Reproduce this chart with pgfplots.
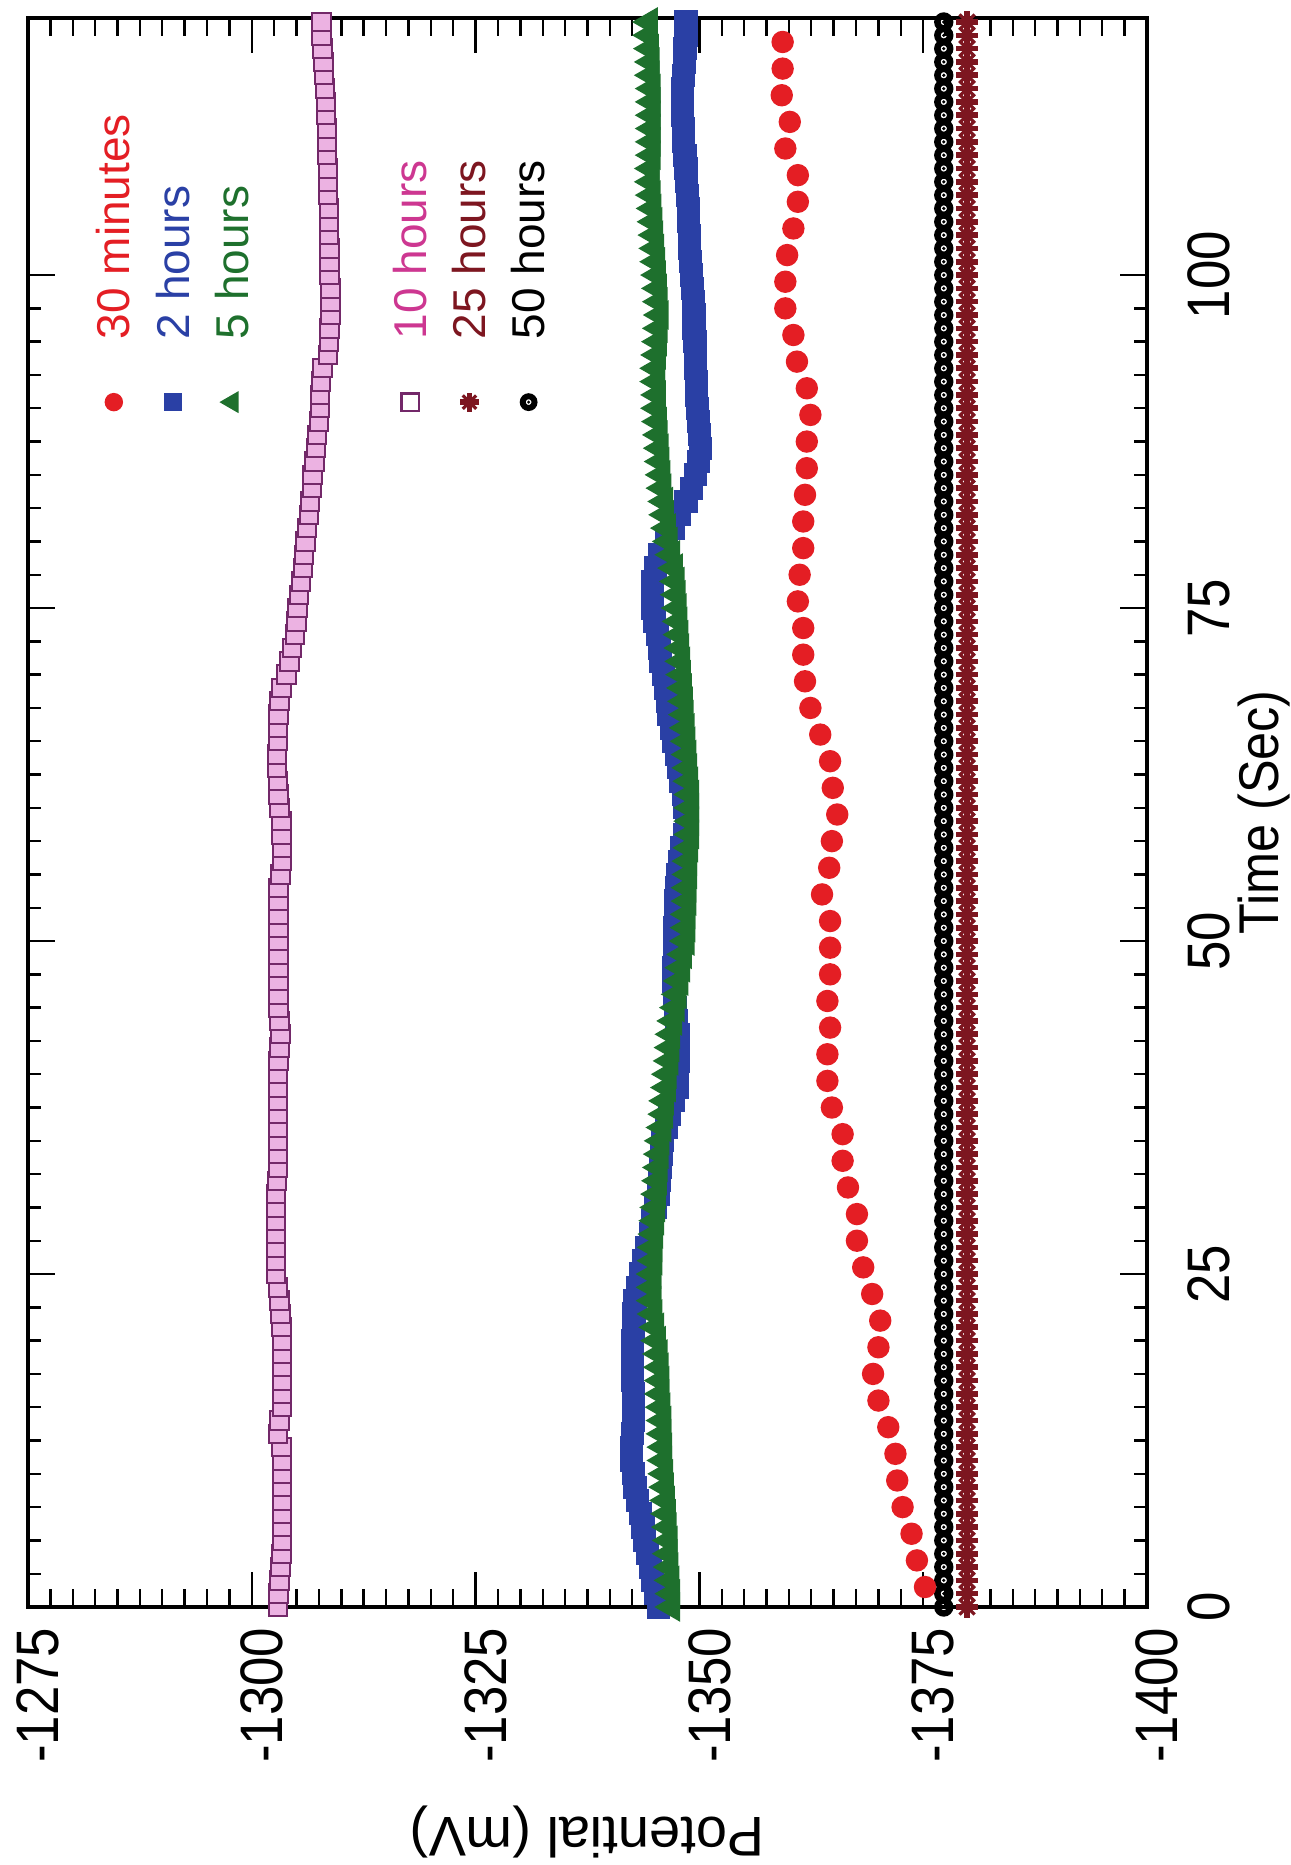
\documentclass[border=0pt]{standalone}
\usepackage{fontspec}
\setmainfont{Liberation Sans}
\usepackage{pgfplots}
\usepackage{pgfplotstable}
\pgfplotsset{compat=1.18}

\definecolor{cRed}{RGB}{228,30,36}
\definecolor{cBlue}{RGB}{42,64,165}
\definecolor{cGreen}{RGB}{30,112,45}
\definecolor{cPinkD}{RGB}{115,40,105}
\definecolor{cPinkF}{RGB}{236,178,226}
\definecolor{cPinkT}{RGB}{205,55,145}
\definecolor{cBrown}{RGB}{125,22,32}

\pgfdeclareplotmark{odot}{%
  \pgfsetlinewidth{0.65\pgfplotmarksize}%
  \pgfpathcircle{\pgfpointorigin}{0.64\pgfplotmarksize}\pgfusepathqstroke
  \pgfpathcircle{\pgfpointorigin}{0.18\pgfplotmarksize}\pgfusepathqfill}
\pgfdeclareplotmark{maltese}{%
  \pgfsetlinewidth{1.4pt}%
  \pgfpathmoveto{\pgfqpoint{-\pgfplotmarksize}{0pt}}\pgfpathlineto{\pgfqpoint{\pgfplotmarksize}{0pt}}%
  \pgfpathmoveto{\pgfqpoint{0pt}{-\pgfplotmarksize}}\pgfpathlineto{\pgfqpoint{0pt}{\pgfplotmarksize}}%
  \pgfusepathqstroke
  \pgfsetlinewidth{0.8pt}%
  \pgfpathmoveto{\pgfqpoint{-0.7\pgfplotmarksize}{-0.7\pgfplotmarksize}}\pgfpathlineto{\pgfqpoint{0.7\pgfplotmarksize}{0.7\pgfplotmarksize}}%
  \pgfpathmoveto{\pgfqpoint{-0.7\pgfplotmarksize}{0.7\pgfplotmarksize}}\pgfpathlineto{\pgfqpoint{0.7\pgfplotmarksize}{-0.7\pgfplotmarksize}}%
  \pgfusepathqstroke}

\pgfplotsset{myimg/.style={legend image code/.code={%
  \draw[##1] plot coordinates {(0pt,0pt)};%
  \path[draw=none, fill=none] (-3pt,-3pt) rectangle (15.75pt,3pt);}}}

% t  10h  2h  5h  50h  25h
\pgfplotstableread{
t pk bl gr bk br
0 -1302.9 -1345.4 -1346.9 -1377.3 -1379.9
1 -1303.0 -1345.1 -1346.9 -1377.3 -1379.9
2 -1303.1 -1344.8 -1346.8 -1377.3 -1379.9
3 -1303.2 -1344.5 -1346.7 -1377.3 -1379.9
4 -1303.3 -1344.2 -1346.6 -1377.3 -1379.9
5 -1303.4 -1343.9 -1346.6 -1377.3 -1379.9
6 -1303.4 -1343.7 -1346.5 -1377.3 -1379.9
7 -1303.4 -1343.4 -1346.4 -1377.3 -1379.9
8 -1303.4 -1343.1 -1346.3 -1377.3 -1379.9
9 -1303.4 -1342.8 -1346.2 -1377.3 -1379.9
10 -1303.4 -1342.6 -1346.1 -1377.3 -1379.9
11 -1303.4 -1342.4 -1346.0 -1377.3 -1379.9
12 -1303.3 -1342.4 -1346.0 -1377.3 -1379.9
13 -1302.9 -1342.5 -1345.9 -1377.3 -1379.9
14 -1303.1 -1342.6 -1345.9 -1377.3 -1379.9
15 -1303.4 -1342.6 -1345.8 -1377.3 -1379.9
16 -1303.4 -1342.6 -1345.7 -1377.3 -1379.9
17 -1303.4 -1342.5 -1345.7 -1377.3 -1379.9
18 -1303.4 -1342.5 -1345.6 -1377.3 -1379.9
19 -1303.4 -1342.5 -1345.5 -1377.3 -1379.9
20 -1303.4 -1342.5 -1345.3 -1377.3 -1379.9
21 -1303.3 -1342.6 -1345.1 -1377.3 -1379.9
22 -1303.2 -1342.7 -1344.9 -1377.3 -1379.9
23 -1303.1 -1342.8 -1344.8 -1377.3 -1379.9
24 -1302.9 -1343.1 -1344.8 -1377.3 -1379.9
25 -1302.7 -1343.4 -1344.8 -1377.3 -1379.9
26 -1302.7 -1343.8 -1344.9 -1377.3 -1379.9
27 -1302.7 -1344.1 -1344.9 -1377.3 -1379.9
28 -1302.7 -1344.5 -1345.0 -1377.3 -1379.9
29 -1302.7 -1344.8 -1345.1 -1377.3 -1379.9
30 -1302.7 -1345.1 -1345.2 -1377.3 -1379.9
31 -1302.7 -1345.4 -1345.3 -1377.3 -1379.9
32 -1302.8 -1345.5 -1345.4 -1377.3 -1379.9
33 -1302.9 -1345.7 -1345.5 -1377.3 -1379.9
34 -1302.9 -1345.8 -1345.6 -1377.3 -1379.9
35 -1302.9 -1345.9 -1345.7 -1377.3 -1379.9
36 -1302.9 -1346.3 -1345.9 -1377.3 -1379.9
37 -1302.9 -1346.7 -1346.1 -1377.3 -1379.9
38 -1302.9 -1347.1 -1346.2 -1377.3 -1379.9
39 -1302.9 -1347.5 -1346.4 -1377.3 -1379.9
40 -1302.9 -1347.5 -1346.5 -1377.3 -1379.9
41 -1303.0 -1347.6 -1346.7 -1377.3 -1379.9
42 -1303.1 -1347.6 -1346.8 -1377.3 -1379.9
43 -1303.2 -1347.6 -1346.9 -1377.3 -1379.9
44 -1303.1 -1347.4 -1347.1 -1377.3 -1379.9
45 -1303.0 -1347.3 -1347.4 -1377.3 -1379.9
46 -1303.0 -1347.2 -1347.6 -1377.3 -1379.9
47 -1303.0 -1347.1 -1347.8 -1377.3 -1379.9
48 -1303.0 -1347.1 -1348.0 -1377.3 -1379.9
49 -1303.0 -1347.2 -1348.2 -1377.3 -1379.9
50 -1303.0 -1347.2 -1348.5 -1377.3 -1379.9
51 -1303.0 -1347.2 -1348.6 -1377.3 -1379.9
52 -1303.0 -1347.3 -1348.6 -1377.3 -1379.9
53 -1303.0 -1347.3 -1348.7 -1377.3 -1379.9
54 -1303.0 -1347.5 -1348.7 -1377.3 -1379.9
55 -1303.2 -1347.6 -1348.8 -1377.3 -1379.9
56 -1303.4 -1347.8 -1348.8 -1377.3 -1379.9
57 -1303.4 -1348.0 -1348.9 -1377.3 -1379.9
58 -1303.3 -1348.3 -1349.0 -1377.3 -1379.9
59 -1303.3 -1348.6 -1349.0 -1377.3 -1379.9
60 -1303.1 -1348.4 -1349.0 -1377.3 -1379.9
61 -1303.0 -1348.2 -1349.0 -1377.3 -1379.9
62 -1302.9 -1347.9 -1348.9 -1377.3 -1379.9
63 -1302.8 -1347.7 -1348.8 -1377.3 -1379.9
64 -1302.8 -1347.4 -1348.7 -1377.3 -1379.9
65 -1302.9 -1347.1 -1348.6 -1377.3 -1379.9
66 -1302.9 -1346.9 -1348.5 -1377.3 -1379.9
67 -1303.0 -1346.6 -1348.4 -1377.3 -1379.9
68 -1303.1 -1346.4 -1348.3 -1377.3 -1379.9
69 -1303.3 -1346.2 -1348.2 -1377.3 -1379.9
70 -1303.9 -1346.0 -1348.1 -1377.3 -1379.9
71 -1304.2 -1345.7 -1348.0 -1377.3 -1379.9
72 -1304.5 -1345.5 -1347.9 -1377.3 -1379.9
73 -1304.8 -1345.3 -1347.8 -1377.3 -1379.9
74 -1305.0 -1345.0 -1347.7 -1377.3 -1379.9
75 -1305.1 -1344.8 -1347.6 -1377.3 -1379.9
76 -1305.3 -1344.8 -1347.5 -1377.3 -1379.9
77 -1305.5 -1344.8 -1347.4 -1377.3 -1379.9
78 -1305.7 -1345.1 -1347.2 -1377.3 -1379.9
79 -1305.8 -1345.6 -1346.9 -1377.3 -1379.9
80 -1306.0 -1346.3 -1346.6 -1377.3 -1379.9
81 -1306.2 -1347.1 -1346.4 -1377.3 -1379.9
82 -1306.4 -1347.8 -1346.2 -1377.3 -1379.9
83 -1306.5 -1348.5 -1346.1 -1377.3 -1379.9
84 -1306.7 -1349.1 -1345.9 -1377.3 -1379.9
85 -1306.8 -1349.6 -1345.8 -1377.3 -1379.9
86 -1307.0 -1349.9 -1345.7 -1377.3 -1379.9
87 -1307.2 -1350.1 -1345.6 -1377.3 -1379.9
88 -1307.3 -1350.0 -1345.5 -1377.3 -1379.9
89 -1307.5 -1349.9 -1345.4 -1377.3 -1379.9
90 -1307.6 -1349.8 -1345.3 -1377.3 -1379.9
91 -1307.6 -1349.7 -1345.3 -1377.3 -1379.9
92 -1307.7 -1349.7 -1345.2 -1377.3 -1379.9
93 -1307.9 -1349.6 -1345.2 -1377.3 -1379.9
94 -1308.5 -1349.6 -1345.3 -1377.3 -1379.9
95 -1308.6 -1349.5 -1345.4 -1377.3 -1379.9
96 -1308.7 -1349.4 -1345.5 -1377.3 -1379.9
97 -1308.8 -1349.4 -1345.6 -1377.3 -1379.9
98 -1308.8 -1349.3 -1345.5 -1377.3 -1379.9
99 -1308.8 -1349.2 -1345.4 -1377.3 -1379.9
100 -1308.7 -1349.1 -1345.3 -1377.3 -1379.9
101 -1308.7 -1349.0 -1345.2 -1377.3 -1379.9
102 -1308.7 -1348.9 -1345.1 -1377.3 -1379.9
103 -1308.6 -1348.9 -1345.0 -1377.3 -1379.9
104 -1308.6 -1348.8 -1344.9 -1377.3 -1379.9
105 -1308.6 -1348.8 -1344.8 -1377.3 -1379.9
106 -1308.5 -1348.7 -1344.7 -1377.3 -1379.9
107 -1308.5 -1348.6 -1344.6 -1377.3 -1379.9
108 -1308.5 -1348.5 -1344.6 -1377.3 -1379.9
109 -1308.4 -1348.4 -1344.7 -1377.3 -1379.9
110 -1308.4 -1348.2 -1344.7 -1377.3 -1379.9
111 -1308.4 -1348.2 -1344.7 -1377.3 -1379.9
112 -1308.3 -1348.1 -1344.7 -1377.3 -1379.9
113 -1308.3 -1348.1 -1344.7 -1377.3 -1379.9
114 -1308.2 -1348.1 -1344.7 -1377.3 -1379.9
115 -1308.1 -1348.2 -1344.6 -1377.3 -1379.9
116 -1308.0 -1348.3 -1344.6 -1377.3 -1379.9
117 -1307.9 -1348.4 -1344.5 -1377.3 -1379.9
118 -1307.8 -1348.5 -1344.4 -1377.3 -1379.9
119 -1307.8 -1348.5 -1344.4 -1377.3 -1379.9
}\main

% 30 minutes
\pgfplotstableread{
t p
1.5 -1375.2
3.5 -1374.3
5.5 -1373.7
7.5 -1372.7
9.5 -1372.1
11.5 -1371.9
13.5 -1371.1
15.5 -1370.0
17.5 -1369.4
19.5 -1370.0
21.5 -1370.2
23.5 -1369.3
25.5 -1368.3
27.5 -1367.6
29.5 -1367.6
31.5 -1366.6
33.5 -1366.0
35.5 -1366.0
37.5 -1364.8
39.5 -1364.3
41.5 -1364.3
43.5 -1364.6
45.5 -1364.3
47.5 -1364.6
49.5 -1364.6
51.5 -1364.6
53.5 -1363.7
55.5 -1364.5
57.5 -1364.8
59.5 -1365.4
61.5 -1364.9
63.5 -1364.6
65.5 -1363.5
67.5 -1362.4
69.5 -1361.8
71.5 -1361.6
73.5 -1361.6
75.5 -1361.0
77.5 -1361.2
79.5 -1361.6
81.5 -1361.6
83.5 -1361.8
85.5 -1362.0
87.5 -1362.0
89.5 -1362.4
91.5 -1362.0
93.5 -1360.9
95.5 -1360.5
97.5 -1359.6
99.5 -1359.6
101.5 -1359.8
103.5 -1360.5
105.5 -1361.0
107.5 -1361.0
109.5 -1359.6
111.5 -1360.1
113.5 -1359.2
115.5 -1359.3
117.5 -1359.3
}\red

\begin{document}
\begin{tikzpicture}[rotate=90, transform shape]
\begin{axis}[
  at={(0pt,0pt)}, anchor=south west,
  scale only axis, width=397.25pt, height=279.75pt,
  xmin=0, xmax=119.3, ymin=-1400, ymax=-1275,
  xtick={0,25,50,75,100},
  ytick={-1400,-1375,-1350,-1325,-1300,-1275},
  minor x tick num=9, minor y tick num=9,
  tick align=inside,
  axis line style={line width=0.8pt},
  tick style={black, line width=0.6pt},
  major tick length=8.75pt, minor tick length=4.5pt,
  xtick style={/pgfplots/major tick length=6.75pt, /pgfplots/minor tick length=3.25pt},
  /pgf/number format/assume math mode=true,
  /pgf/number format/1000 sep={},
  tick label style={font=\fontsize{15}{18}\selectfont},
  xticklabel style={anchor=north, inner sep=0pt, yshift=-10pt, xscale=0.88},
  yticklabel style={anchor=east, inner sep=0pt, xshift=-5pt, yshift=-2.5pt, xscale=0.88},
  xlabel={Time (Sec)}, ylabel={Potential (mV)},
  every axis x label/.style={at={(axis description cs:0.5,0)}, anchor=north,
     yshift=-22.5pt, inner sep=0pt, font=\fontsize{14}{17}\selectfont, xscale=0.9},
  every axis y label/.style={at={(axis description cs:0,0.5)}, xshift=-49.5pt,
     rotate=90, anchor=south, inner sep=0pt, font=\fontsize{14}{17}\selectfont},
  legend cell align=left,
  legend style={draw=none, fill=none, inner sep=0pt,
     at={(axis description cs:0.7502,0.9383)}, anchor=north west,
     row sep=6.8pt, column sep=0pt,
     font=\fontsize{11.5}{13}\selectfont,
     nodes={inner sep=0pt, text height=8pt, text depth=0pt}},
  clip=true,
]
% data
\addplot[forget plot, only marks, mark=square*, mark size=2.3pt, draw=cPinkD, fill=cPinkF,
  mark options={line width=0.5pt}] table[x=t, y=pk] {\main};
\addplot[forget plot, only marks, mark=maltese, mark size=2.7pt, draw=cBrown] table[x=t, y=br] {\main};
\addplot[forget plot, only marks, mark=odot, mark size=2.5pt, draw=black, fill=black] table[x=t, y=bk] {\main};
\addplot[forget plot, only marks, mark=square*, mark size=2.7pt, draw=cBlue, fill=cBlue] table[x=t, y=bl] {\main};
\addplot[forget plot, only marks, mark=triangle*, mark size=3.9pt, draw=cGreen, fill=cGreen] table[x=t, y=gr] {\main};
\addplot[forget plot, only marks, mark=*, mark size=2.6pt, draw=cRed, fill=cRed] table[x=t, y=p] {\red};
% legend
\addlegendimage{only marks, mark=*, mark size=2.1pt, draw=cRed, fill=cRed, myimg}
\addlegendentry[text=cRed]{30 minutes}
\addlegendimage{only marks, mark=square*, mark size=2.1pt, draw=cBlue, fill=cBlue, myimg}
\addlegendentry[text=cBlue]{2 hours}
\addlegendimage{only marks, mark=triangle*, mark size=2.8pt, draw=cGreen, fill=cGreen, myimg}
\addlegendentry[text=cGreen]{5 hours}
\addlegendimage{empty legend}
\addlegendentry[text height=22.9pt]{}
\addlegendimage{only marks, mark=square, mark size=2.2pt, draw=cPinkD, mark options={line width=0.6pt}, myimg}
\addlegendentry[text=cPinkT]{10 hours}
\addlegendimage{only marks, mark=maltese, mark size=2.4pt, draw=cBrown, myimg}
\addlegendentry[text=cBrown]{25 hours}
\addlegendimage{only marks, mark=odot, mark size=2.3pt, draw=black, fill=black, myimg}
\addlegendentry[text=black]{50 hours}
\end{axis}
\pgfresetboundingbox
\path[use as bounding box] (-64.5pt,-36pt) rectangle (401.75pt,286.75pt);
\end{tikzpicture}
\end{document}
